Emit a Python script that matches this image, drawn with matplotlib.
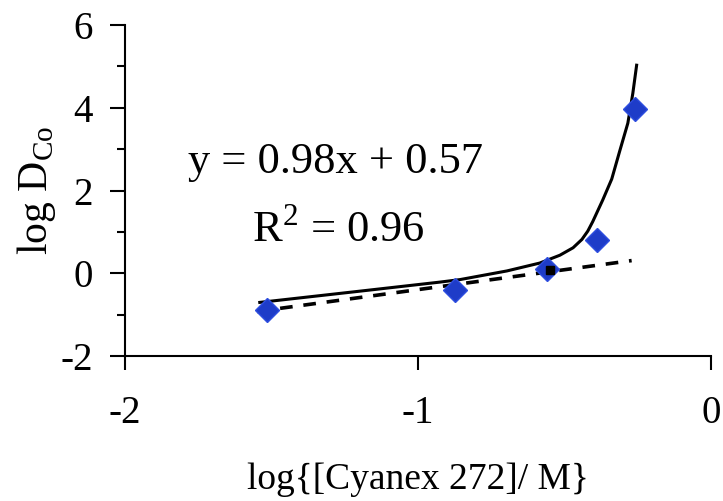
import matplotlib.pyplot as plt
from matplotlib.ticker import MultipleLocator

plt.rcParams['font.family'] = ['Liberation Serif', 'DejaVu Serif']
plt.rcParams['axes.unicode_minus'] = False

# experimental points (blue diamonds)
log_c = [-1.515, -0.874, -0.56, -0.389, -0.259]
log_d = [-0.89, -0.41, 0.10, 0.80, 3.97]

# solid curve
curve_x = [-1.54, -1.2, -0.925, -0.857, -0.696, -0.584, -0.515, -0.47, -0.44,
           -0.42, -0.403, -0.369, -0.338, -0.311, -0.283, -0.266, -0.253]
curve_y = [-0.70, -0.43, -0.21, -0.15, 0.06, 0.25, 0.44, 0.62, 0.82,
           1.02, 1.25, 1.77, 2.28, 2.95, 3.63, 4.35, 5.03]

# linear fit, y = 0.98x + 0.57 (end points)
fit_x = [-1.55, -0.27]
fit_y = [-0.92, 0.31]

# single black point on the fit
black_x = [-0.55]
black_y = [0.08]

fig = plt.figure(figsize=(7.23, 5.01), dpi=100)
ax = fig.add_axes([0.173, 0.289, 0.81, 0.661])

ax.plot(fit_x, fit_y, color='black', lw=2.6, ls=(0, (3.5, 3)))
ax.plot(curve_x, curve_y, color='black', lw=2.2)
ax.plot(log_c, log_d, 'D', color='#1e3cc8', ms=12, mec='#2e4ee0')
ax.plot(black_x, black_y, 's', color='black', ms=6)

ax.set_xlim(-2, 0)
ax.set_ylim(-2, 6)
ax.xaxis.set_major_locator(MultipleLocator(1))
ax.yaxis.set_major_locator(MultipleLocator(2))
ax.yaxis.set_minor_locator(MultipleLocator(1))

for s in ['top', 'right']:
    ax.spines[s].set_visible(False)
for s in ['left', 'bottom']:
    ax.spines[s].set_linewidth(1.5)

ax.tick_params(axis='y', which='major', direction='out', length=11, width=1.5,
               pad=12, labelsize=28)
ax.tick_params(axis='y', which='minor', direction='out', length=6, width=1.5)
ax.tick_params(axis='x', which='major', direction='out', length=10, width=1.5,
               pad=18, labelsize=28)

ax.set_xlabel('log{[Cyanex 272]/ M}', fontsize=27, labelpad=22)
ax.set_ylabel('log D$_{\\mathregular{Co}}$', fontsize=30, labelpad=2)

ax.text(-1.28, 2.7, 'y = 0.98x + 0.57', fontsize=32, ha='center', va='center')
ax.text(-1.27, 1.05, 'R$^{\\mathregular{2}}$ = 0.96', fontsize=32, ha='center', va='center')

fig.savefig('out.png', dpi=100)
